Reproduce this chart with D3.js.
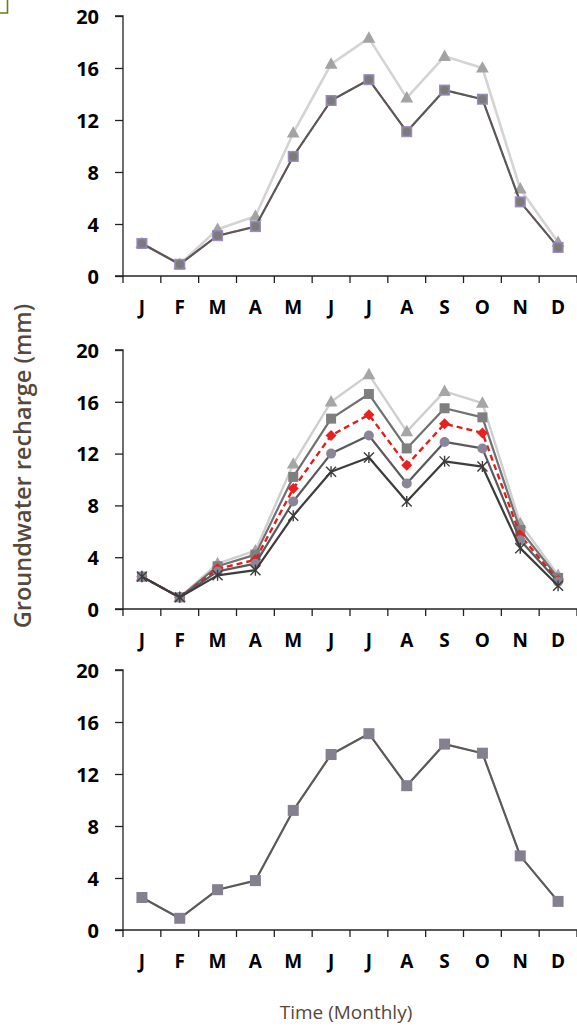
<!DOCTYPE html>
<html>
<head>
<meta charset="utf-8">
<script src="https://cdn.jsdelivr.net/npm/d3@7"></script>
<style>
  html, body { margin: 0; padding: 0; background: #fff; }
  svg { display: block; }
</style>
</head>
<body>
<svg id="chart" width="577" height="1027"></svg>
<script>
// Month labels along the x axis
const months = ["J", "F", "M", "A", "M", "J", "J", "A", "S", "O", "N", "D"];
const yTicks = [0, 4, 8, 12, 16, 20];

// Monthly groundwater recharge (mm)
const baseline   = [2.5, 0.9, 3.1, 3.8, 9.2, 13.5, 15.1, 11.1, 14.3, 13.6, 5.7, 2.2];
const highTop    = [2.5, 0.9, 3.6, 4.6, 11.0, 16.3, 18.3, 13.7, 16.9, 16.0, 6.7, 2.6];

const midTri     = [2.5, 0.9, 3.5, 4.5, 11.2, 16.0, 18.1, 13.7, 16.8, 15.9, 6.6, 2.6];
const midSquare  = [2.5, 0.9, 3.3, 4.2, 10.2, 14.7, 16.6, 12.4, 15.5, 14.8, 6.1, 2.4];
const midRed     = [2.5, 0.9, 3.1, 3.8, 9.3, 13.4, 15.0, 11.1, 14.3, 13.6, 5.7, 2.2];
const midCircle  = [2.5, 0.9, 2.9, 3.5, 8.3, 12.0, 13.4, 9.7, 12.9, 12.4, 5.3, 2.1];
const midStar    = [2.5, 0.9, 2.6, 3.0, 7.2, 10.6, 11.7, 8.3, 11.4, 11.0, 4.7, 1.8];

const lowSeries  = [2.5, 0.9, 3.1, 3.8, 9.2, 13.5, 15.1, 11.1, 14.3, 13.6, 5.7, 2.2];

const svg = d3.select("#chart");

const x = d3.scaleBand().domain(d3.range(12)).range([123, 577]).paddingInner(0).paddingOuter(0);

const panels = [
  { y0: 276, y1: 16 },
  { y0: 609, y1: 350 },
  { y0: 930, y1: 670 }
];

const tickFont = "'Open Sans', 'DejaVu Sans', sans-serif";

function drawAxes(p) {
  const y = d3.scaleLinear().domain([0, 20]).range([p.y0, p.y1]);
  const g = svg.append("g");

  // y axis
  const ya = g.append("g").attr("transform", "translate(123,0)")
    .call(d3.axisLeft(y).tickValues(yTicks).tickSize(8).tickPadding(16));
  ya.select(".domain").attr("stroke", "#222").attr("stroke-width", 1.3).attr("d", `M-8,${p.y1}H0V${p.y0}`);
  ya.selectAll(".tick line").attr("stroke", "#222").attr("stroke-width", 1.3);
  ya.selectAll(".tick text").attr("font-family", tickFont).attr("font-weight", 700)
    .attr("font-size", 20).attr("fill", "#000").attr("dy", "0.36em");

  // x axis with ticks between months
  const xa = g.append("g").attr("transform", `translate(0,${p.y0})`);
  xa.append("line").attr("x1", 115).attr("x2", 577).attr("y1", 0).attr("y2", 0)
    .attr("stroke", "#222").attr("stroke-width", 1.3);
  const bounds = d3.range(13).map(i => 123 + i * x.bandwidth());
  xa.selectAll("line.b").data(bounds).join("line").attr("class", "b")
    .attr("x1", d => d).attr("x2", d => d).attr("y1", 0).attr("y2", 7)
    .attr("stroke", "#222").attr("stroke-width", 1.3);
  xa.selectAll("text").data(months).join("text")
    .attr("x", (d, i) => x(i) + x.bandwidth() / 2)
    .attr("y", 38)
    .attr("text-anchor", "middle")
    .attr("font-family", tickFont).attr("font-weight", 700)
    .attr("font-size", 19).attr("fill", "#000")
    .text(d => d);
  return y;
}

function drawLine(y, data, opt) {
  const line = d3.line().x((d, i) => x(i) + x.bandwidth() / 2).y(d => y(d));
  svg.append("path").datum(data)
    .attr("d", line)
    .attr("fill", "none")
    .attr("stroke", opt.stroke)
    .attr("stroke-width", opt.width || 2.2)
    .attr("stroke-dasharray", opt.dash || null)
    .attr("stroke-linejoin", "round");
}

function drawMarkers(y, data, opt) {
  const cx = i => x(i) + x.bandwidth() / 2;
  const g = svg.append("g");
  const pts = g.selectAll("g").data(data).join("g")
    .attr("transform", (d, i) => `translate(${cx(i)},${y(d)})`);
  const s = opt.size || 9;
  if (opt.shape === "square") {
    pts.append("rect").attr("x", -s / 2).attr("y", -s / 2).attr("width", s).attr("height", s)
      .attr("fill", opt.fill).attr("stroke", opt.stroke || "none").attr("stroke-width", opt.sw || 1);
  } else if (opt.shape === "circle") {
    pts.append("circle").attr("r", s / 2).attr("fill", opt.fill)
      .attr("stroke", opt.stroke || "none").attr("stroke-width", opt.sw || 1);
  } else if (opt.shape === "triangle") {
    pts.append("path").attr("d", `M0,${-s * 0.62}L${s * 0.58},${s * 0.42}L${-s * 0.58},${s * 0.42}Z`)
      .attr("fill", opt.fill);
  } else if (opt.shape === "diamond") {
    pts.append("path").attr("d", `M0,${-s / 2}L${s / 2},0L0,${s / 2}L${-s / 2},0Z`).attr("fill", opt.fill);
  } else if (opt.shape === "star") {
    const r = s / 2;
    pts.append("path")
      .attr("d", `M${-r},${-r}L${r},${r}M${-r},${r}L${r},${-r}M0,${-r * 1.1}V${r * 1.1}`)
      .attr("stroke", opt.fill).attr("stroke-width", 1.4).attr("fill", "none");
  }
}

// Panel 1
{
  const y = drawAxes(panels[0]);
  drawLine(y, highTop, { stroke: "#d4d4d4", width: 2.6 });
  drawMarkers(y, highTop, { shape: "triangle", fill: "#a3a3a3", size: 11 });
  drawLine(y, baseline, { stroke: "#ff4040", width: 1.6, dash: "5,3" });
  drawLine(y, baseline, { stroke: "#595959", width: 2.2 });
  drawMarkers(y, baseline, { shape: "square", fill: "#8c8499", stroke: "#9a86c0", size: 10 });
  drawMarkers(y, baseline, { shape: "circle", fill: "#7b7b7b", size: 8 });
}

// Panel 2
{
  const y = drawAxes(panels[1]);
  drawLine(y, midTri, { stroke: "#cfcfcf", width: 2.4 });
  drawMarkers(y, midTri, { shape: "triangle", fill: "#a6a6a6", size: 11 });
  drawLine(y, midSquare, { stroke: "#707070", width: 2.2 });
  drawMarkers(y, midSquare, { shape: "square", fill: "#7f7f7f", size: 10 });
  drawLine(y, midRed, { stroke: "#e0201c", width: 2.4, dash: "6,4" });
  drawMarkers(y, midRed, { shape: "diamond", fill: "#ea1f1f", size: 11 });
  drawLine(y, midCircle, { stroke: "#5a5a5a", width: 2.2 });
  drawMarkers(y, midCircle, { shape: "circle", fill: "#8a8698", size: 10 });
  drawLine(y, midStar, { stroke: "#3c3c3c", width: 2.2 });
  drawMarkers(y, midStar, { shape: "star", fill: "#3c3c3c", size: 10 });
}

// Panel 3
{
  const y = drawAxes(panels[2]);
  drawLine(y, lowSeries, { stroke: "#e8a0a0", width: 1.6 });
  drawLine(y, lowSeries, { stroke: "#5a5a5a", width: 2.2 });
  drawMarkers(y, lowSeries, { shape: "square", fill: "#85808f", size: 11 });
}

// Axis titles
svg.append("text")
  .attr("transform", "translate(31,466) rotate(-90)")
  .attr("text-anchor", "middle")
  .attr("font-family", "'Open Sans', sans-serif")
  .attr("font-size", 23.5)
  .attr("font-weight", 600)
  .attr("fill", "#56483a")
  .text("Groundwater recharge (mm)");

svg.append("text")
  .attr("x", 346).attr("y", 1019)
  .attr("text-anchor", "middle")
  .attr("font-family", "'Open Sans', sans-serif")
  .attr("font-size", 19)
  .attr("fill", "#56483a")
  .text("Time (Monthly)");

// Corner bracket in the top-left
svg.append("path")
  .attr("d", "M7.5,0V13H0")
  .attr("fill", "none")
  .attr("stroke", "#6b7d1a")
  .attr("stroke-width", 1.6);
</script>
</body>
</html>
